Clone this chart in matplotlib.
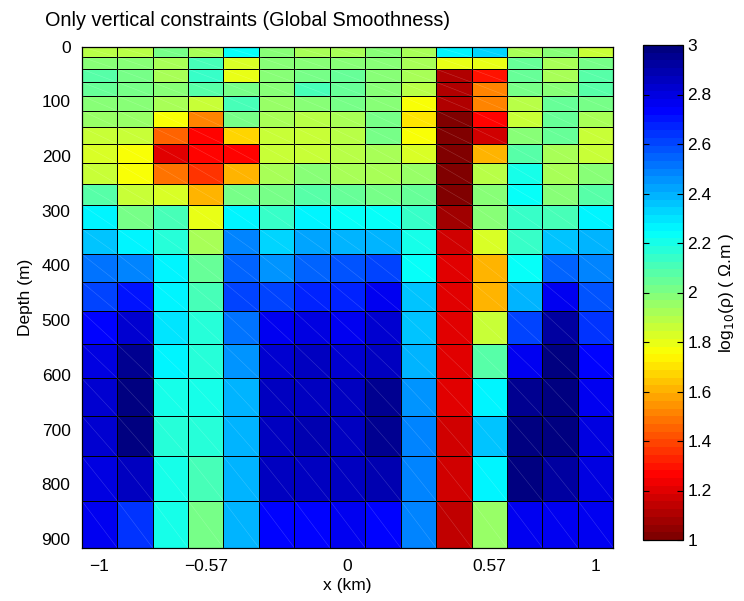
import numpy as np
import matplotlib
matplotlib.use('Agg')
from matplotlib import pyplot as plt
from matplotlib.colors import LinearSegmentedColormap
from matplotlib.collections import LineCollection

plt.rcParams['font.family'] = ['Liberation Sans', 'DejaVu Sans']

# cell edges: 15 columns of 1/7 km, 20 layers (depth in m)
x_edges = [-15/14 + k/7 for k in range(16)]
depth_edges = [0, 19, 41, 65, 90, 117, 147, 178, 213, 251, 289, 333, 379,
               430, 484, 544, 606, 675, 749, 830, 916]

# log10 resistivity per layer (rows) and column
r00 = [1.90, 1.90, 2.02, 1.92, 2.22, 1.97, 1.93, 1.92, 1.97, 1.92, 2.25, 2.32, 1.92, 1.98, 1.87]
r01 = [1.97, 1.97, 1.93, 2.10, 1.83, 1.97, 1.98, 1.98, 1.98, 1.93, 1.80, 1.80, 2.05, 1.93, 2.00]
r02 = [2.07, 2.00, 1.92, 2.15, 1.80, 1.98, 2.00, 2.05, 1.98, 1.92, 1.10, 1.30, 2.05, 1.93, 2.07]
r03 = [2.05, 2.00, 1.97, 2.07, 2.00, 1.97, 2.10, 2.05, 1.98, 1.88, 1.10, 1.52, 2.00, 1.97, 2.08]
r04 = [1.98, 1.97, 1.92, 1.85, 2.12, 1.96, 1.98, 2.00, 1.98, 1.75, 1.10, 1.52, 1.88, 2.05, 2.02]
r05 = [1.95, 1.95, 1.78, 1.53, 2.00, 1.92, 1.90, 1.93, 2.00, 1.69, 1.00, 1.27, 1.87, 2.05, 1.93]
r06 = [1.85, 1.85, 1.45, 1.27, 1.67, 1.87, 1.85, 1.90, 2.00, 1.75, 1.00, 1.17, 1.98, 2.05, 1.85]
r07 = [1.83, 1.78, 1.21, 1.25, 1.27, 1.85, 1.85, 1.88, 1.92, 1.83, 1.00, 1.60, 2.07, 1.93, 1.87]
r08 = [1.87, 1.78, 1.47, 1.37, 1.60, 1.92, 1.97, 1.92, 1.92, 1.95, 1.00, 1.88, 2.19, 1.92, 1.97]
r09 = [2.07, 1.85, 1.83, 1.60, 2.00, 2.00, 2.08, 2.06, 2.00, 2.06, 1.00, 1.98, 2.22, 1.97, 2.07]
r10 = [2.25, 2.02, 2.10, 1.80, 2.27, 2.15, 2.25, 2.23, 2.23, 2.15, 1.08, 1.97, 2.15, 2.12, 2.25]
r11 = [2.37, 2.25, 2.17, 1.93, 2.47, 2.32, 2.42, 2.38, 2.40, 2.20, 1.17, 1.82, 2.15, 2.36, 2.38]
r12 = [2.50, 2.47, 2.28, 2.05, 2.55, 2.45, 2.55, 2.58, 2.60, 2.23, 1.21, 1.60, 2.22, 2.55, 2.48]
r13 = [2.62, 2.70, 2.28, 2.12, 2.60, 2.62, 2.68, 2.68, 2.75, 2.35, 1.21, 1.60, 2.38, 2.75, 2.58]
r14 = [2.73, 2.82, 2.30, 2.17, 2.52, 2.75, 2.80, 2.77, 2.82, 2.37, 1.21, 1.85, 2.60, 2.92, 2.65]
r15 = [2.80, 2.95, 2.25, 2.17, 2.45, 2.82, 2.87, 2.82, 2.87, 2.40, 1.19, 2.08, 2.77, 3.00, 2.73]
r16 = [2.82, 3.00, 2.19, 2.20, 2.40, 2.87, 2.87, 2.85, 2.95, 2.44, 1.19, 2.27, 2.95, 3.00, 2.75]
r17 = [2.82, 2.97, 2.17, 2.17, 2.38, 2.86, 2.89, 2.86, 2.94, 2.47, 1.16, 2.35, 2.97, 3.00, 2.80]
r18 = [2.79, 2.85, 2.20, 2.11, 2.38, 2.85, 2.87, 2.86, 2.90, 2.47, 1.16, 2.25, 2.97, 2.92, 2.80]
r19 = [2.75, 2.65, 2.20, 2.00, 2.38, 2.73, 2.73, 2.77, 2.73, 2.47, 1.13, 1.95, 2.77, 2.77, 2.77]
rho = np.array([r00, r01, r02, r03, r04, r05, r06, r07, r08, r09,
                r10, r11, r12, r13, r14, r15, r16, r17, r18, r19])

x_ticks = [-1, -4/7, 0, 4/7, 1]
x_ticklabels = ['\u22121', '\u22120.57', '0', '0.57', '1']
y_ticks = [0, 100, 200, 300, 400, 500, 600, 700, 800, 900]
cb_ticks = [1, 1.2, 1.4, 1.6, 1.8, 2, 2.2, 2.4, 2.6, 2.8, 3]

# matlab style jet, reversed (low = dark red, high = dark blue)
jet_r = LinearSegmentedColormap.from_list(
    'jet_r_matlab',
    [(0, (0.5, 0, 0)), (1/8, (1, 0, 0)), (3/8, (1, 1, 0)),
     (5/8, (0, 1, 1)), (7/8, (0, 0, 1)), (1, (0, 0, 0.5))], N=64)

fig = plt.figure(figsize=(7.44, 6.01), dpi=100)
ax = fig.add_axes([81.7/744, 1 - 547.7/601, 531.6/744, 501/601])
mesh = ax.pcolormesh(x_edges, depth_edges, rho, cmap=jet_r, vmin=1, vmax=3,
                     edgecolors='k', linewidth=0.7)

# faint diagonal seams like the original patch rendering
segs = []
for i in range(len(depth_edges) - 1):
    for j in range(len(x_edges) - 1):
        segs.append([(x_edges[j], depth_edges[i]), (x_edges[j + 1], depth_edges[i + 1])])
ax.add_collection(LineCollection(segs, colors='white', linewidths=0.4, alpha=0.2))

ax.set_xlim(x_edges[0], x_edges[-1])
ax.set_ylim(depth_edges[-1], 0)
ax.set_xticks(x_ticks)
ax.set_xticklabels(x_ticklabels)
ax.set_yticks(y_ticks)
ax.tick_params(direction='in', labelsize=12.5, length=0, pad=8)
ax.set_xlabel('x (km)', fontsize=12.5, labelpad=3)
ax.set_ylabel('Depth (m)', fontsize=12.5, labelpad=6)
for s in ax.spines.values():
    s.set_linewidth(0.9)

fig.text(45/744, 1 - 21/601, 'Only vertical constraints (Global Smoothness)',
         fontsize=14.3, ha='left', va='center')

cax = fig.add_axes([642.7/744, 1 - 540/601, 40.6/744, 495/601])
cb = fig.colorbar(mesh, cax=cax, ticks=cb_ticks)
cb.ax.set_yticklabels(['1', '1.2', '1.4', '1.6', '1.8', '2', '2.2', '2.4', '2.6', '2.8', '3'])
cb.ax.tick_params(direction='in', labelsize=12.5, length=4, width=0.8, left=True, right=True, pad=3)
cb.outline.set_linewidth(0.9)
cb.set_label('log$_{10}$(\u03c1) ( \u03a9.m )', fontsize=12.5, labelpad=4)

plt.savefig('out.png', dpi=100)
